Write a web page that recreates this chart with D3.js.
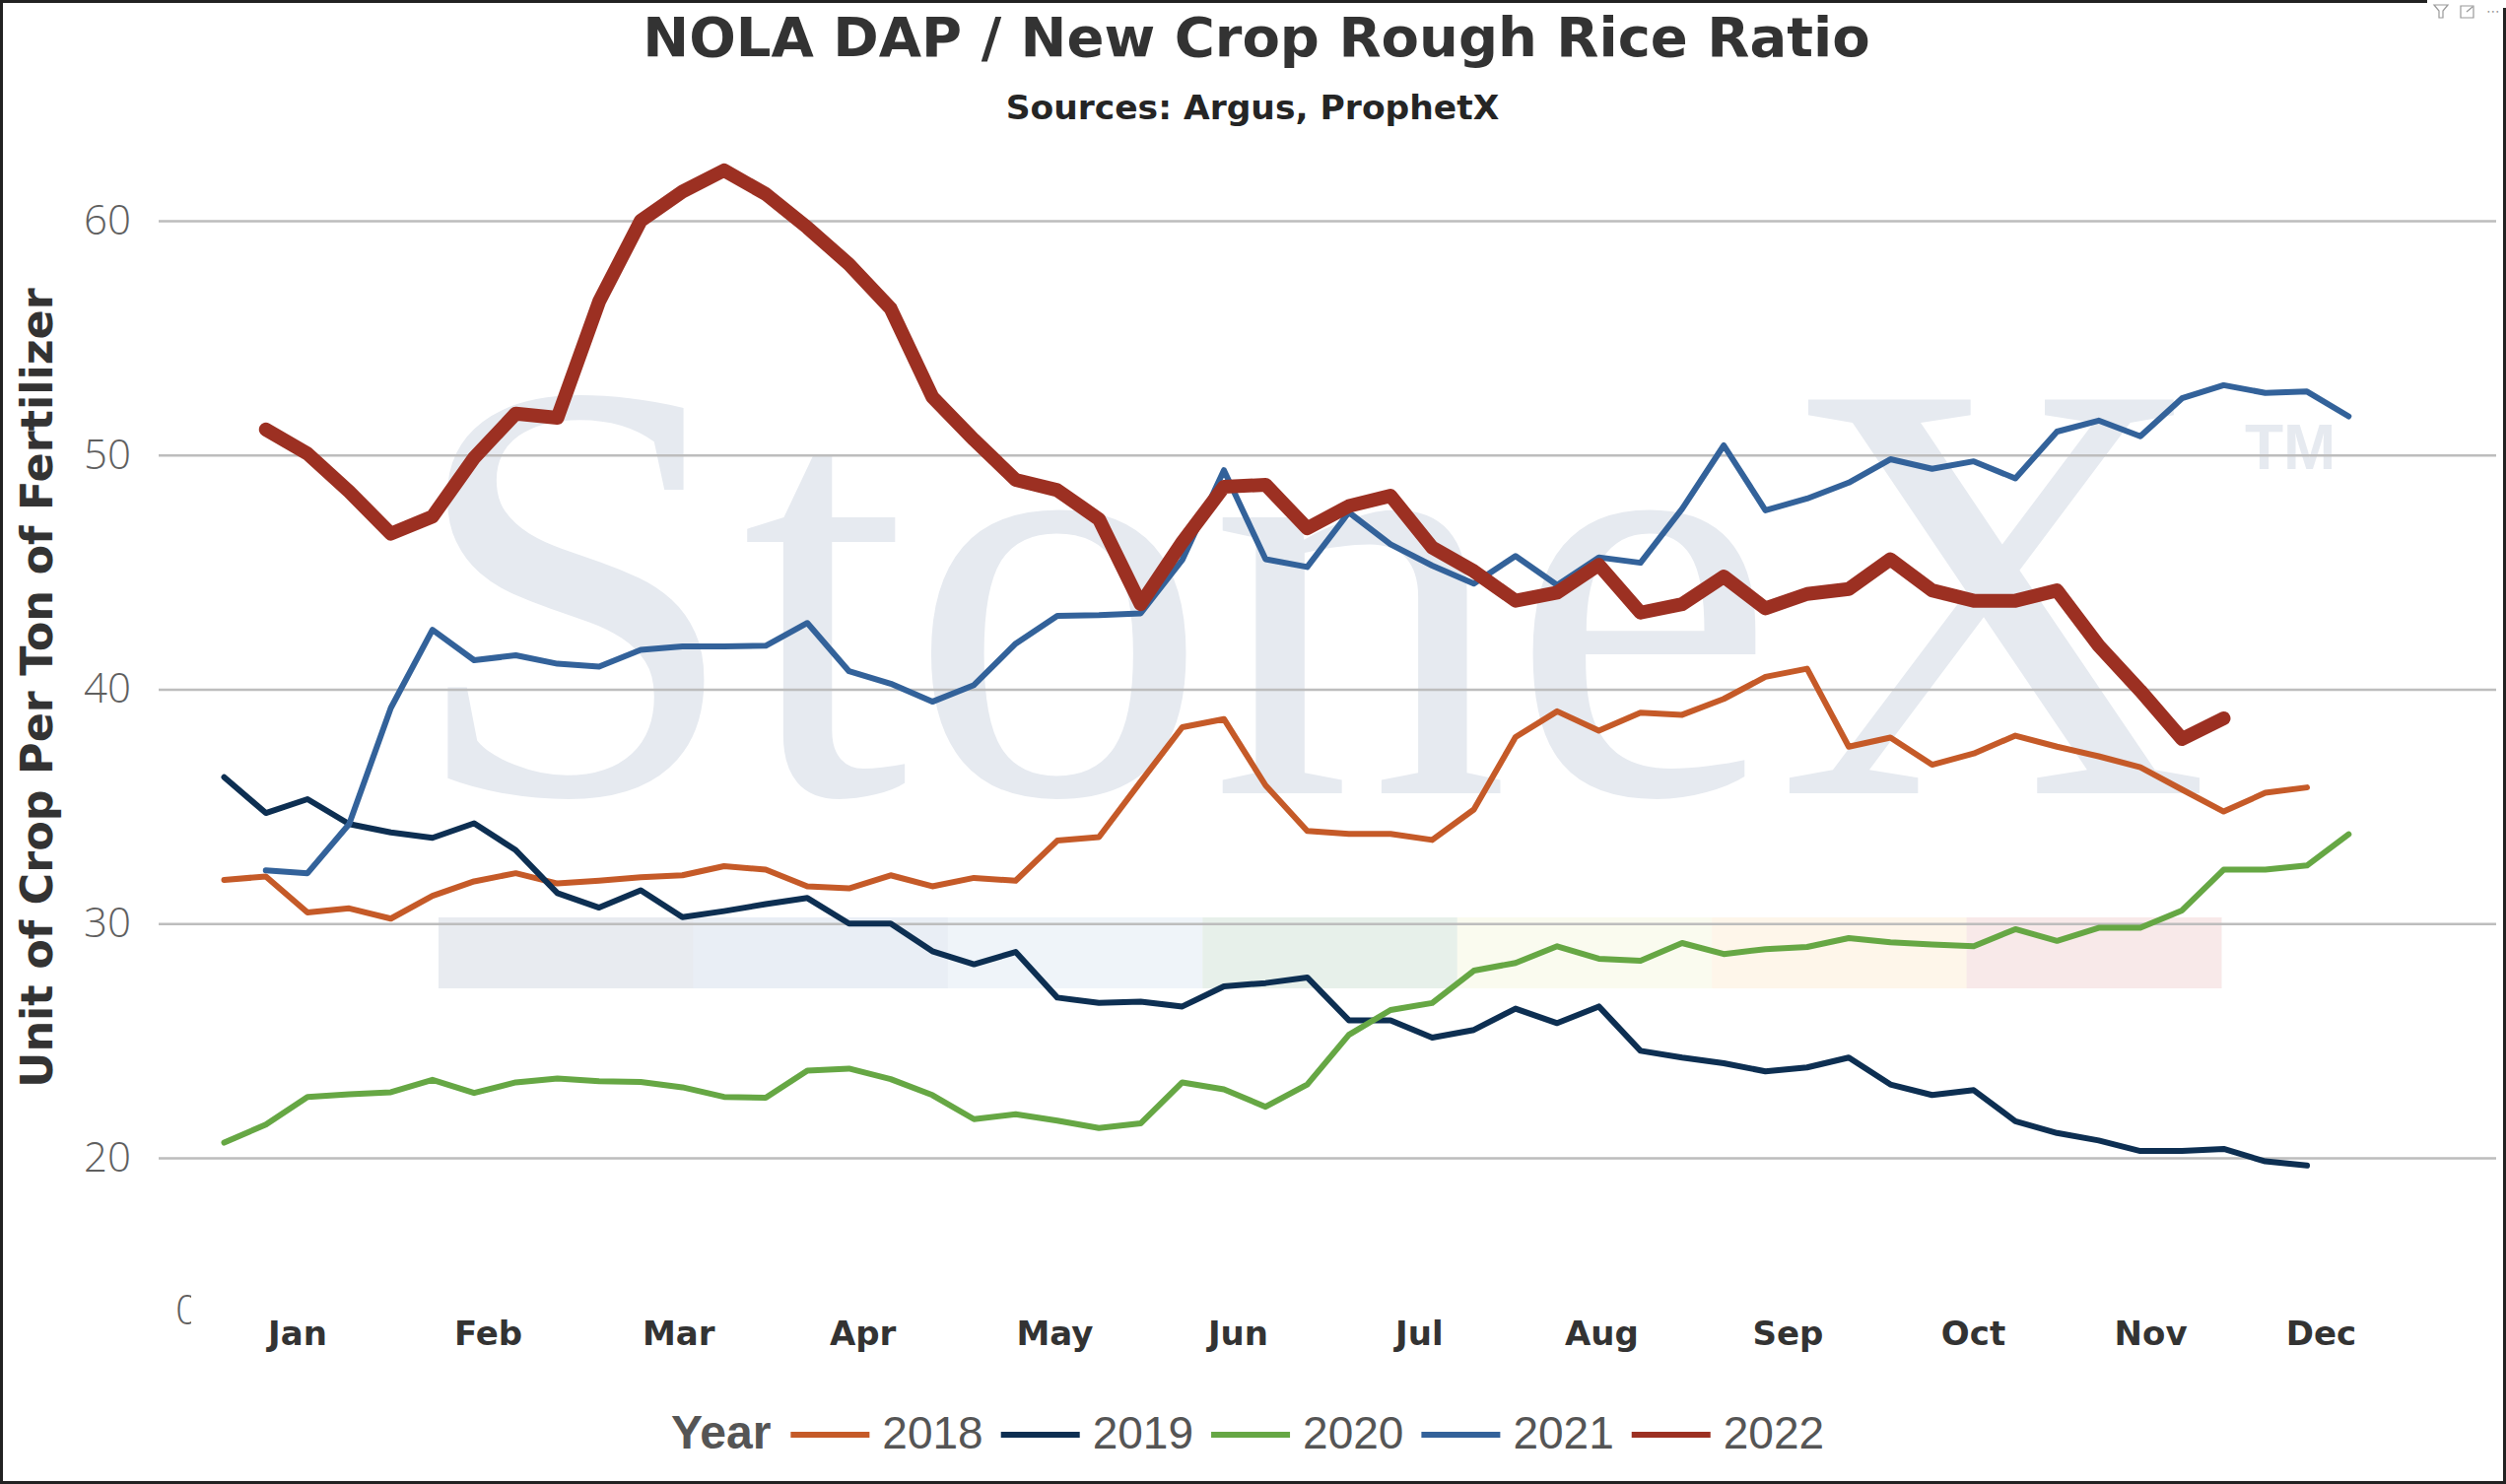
<!DOCTYPE html>
<html>
<head>
<meta charset="utf-8">
<script src="https://cdn.jsdelivr.net/npm/d3@7/dist/d3.min.js"></script>
<style>
  html, body { margin: 0; padding: 0; background: #fff; }
  svg { display: block; }
</style>
</head>
<body>
<div id="chart"></div>
<script>
// NOLA DAP / new crop rough rice ratio, one value per week (index 0 = first week)
const years = ['2018', '2019', '2020', '2021', '2022'];

const ratio2018 = [31.86, 32.01, 30.47, 30.65, 30.21, 31.18, 31.80, 32.15, 31.71, 31.83,
  31.98, 32.06, 32.45, 32.30, 31.59, 31.50, 32.06, 31.59, 31.95, 31.83,
  33.54, 33.69, 36.05, 38.38, 38.73, 35.90, 33.95, 33.83, 33.83, 33.57,
  34.87, 37.96, 39.06, 38.23, 39.00, 38.91, 39.59, 40.53, 40.88, 37.55,
  37.94, 36.78, 37.26, 38.02, 37.55, 37.14, 36.67, 35.72, 34.78, 35.58, 35.81];

const ratio2019 = [36.25, 34.72, 35.31, 34.25, 33.89, 33.66, 34.28, 33.13, 31.30, 30.68,
  31.42, 30.27, 30.53, 30.83, 31.09, 30.00, 30.00, 28.82, 28.26, 28.79,
  26.84, 26.61, 26.67, 26.46, 27.32, 27.46, 27.70, 25.87, 25.87, 25.13,
  25.46, 26.37, 25.75, 26.46, 24.57, 24.28, 24.04, 23.69, 23.86, 24.28,
  23.13, 22.68, 22.89, 21.56, 21.06, 20.74, 20.29, 20.29, 20.38, 19.85, 19.67];

const ratio2020 = [20.65, 21.42, 22.60, 22.71, 22.80, 23.33, 22.77, 23.22, 23.39, 23.27,
  23.24, 23.01, 22.60, 22.57, 23.72, 23.81, 23.36, 22.68, 21.65, 21.86,
  21.59, 21.27, 21.47, 23.22, 22.92, 22.18, 23.13, 25.25, 26.31, 26.61,
  27.99, 28.32, 29.03, 28.50, 28.41, 29.17, 28.70, 28.91, 29.00, 29.38,
  29.20, 29.11, 29.03, 29.76, 29.26, 29.82, 29.82, 30.56, 32.30, 32.30, 32.48, 33.81];

const ratio2021 = [null, 32.27, 32.15, 34.25, 39.20, 42.54, 41.24, 41.45, 41.09, 40.97,
  41.68, 41.83, 41.83, 41.86, 42.83, 40.77, 40.24, 39.47, 40.18, 41.95,
  43.13, 43.16, 43.24, 45.52, 49.35, 45.55, 45.22, 47.55, 46.19, 45.28,
  44.51, 45.69, 44.45, 45.63, 45.40, 47.70, 50.41, 47.64, 48.14, 48.82,
  49.82, 49.41, 49.73, 49.00, 51.00, 51.47, 50.80, 52.42, 52.98, 52.65, 52.71, 51.65];

const ratio2022 = [null, 51.09, 50.06, 48.44, 46.64, 47.37, 49.88, 51.77, 51.59, 56.55,
  60.00, 61.24, 62.15, 61.14, 59.71, 58.14, 56.25, 52.48, 50.65, 48.94,
  48.50, 47.26, 43.63, 46.28, 48.64, 48.73, 46.87, 47.82, 48.26, 46.05,
  45.04, 43.78, 44.13, 45.31, 43.27, 43.63, 44.81, 43.45, 44.07, 44.28,
  45.55, 44.22, 43.78, 43.78, 44.22, 41.86, 39.94, 37.88, 38.76];

// month labels and where they sit, in week units
const monthLabels = ['Jan', 'Feb', 'Mar', 'Apr', 'May', 'Jun', 'Jul', 'Aug', 'Sep', 'Oct', 'Nov', 'Dec'];
const monthPos = [1.75, 6.33, 10.90, 15.32, 19.93, 24.33, 28.68, 33.06, 37.53, 41.98, 46.24, 50.33];

const yTicks = [20, 30, 40, 50, 60];

const series = [ratio2018, ratio2019, ratio2020, ratio2021, ratio2022];

const W = 2543, H = 1506;

var svg = d3.select('#chart')
  .append('svg')
  .attr('width', W)
  .attr('height', H);

var x = d3.scaleLinear()
  .domain([0, 51])
  .range([227.5, 2383.3]);

var y = d3.scaleLinear()
  .domain([20, 60])
  .range([1175, 224]);

var color = d3.scaleOrdinal()
  .domain(years)
  .range(['#C55A28', '#0D2F52', '#66A744', '#33629A', '#9C3022']);

// StoneX watermark behind everything
var wm = svg.append('g').attr('class', 'watermark');
wm.append('text')
  .attr('x', 413)
  .attr('y', 805)
  .attr('font-family', '"Liberation Serif", "DejaVu Serif", serif')
  .attr('font-size', 610)
  .attr('fill', '#E6EAF0')
  .text('StoneX');
wm.append('text')
  .attr('x', 2278)
  .attr('y', 476)
  .attr('font-family', '"Liberation Sans", Arial, sans-serif')
  .attr('font-weight', 'bold')
  .attr('font-size', 64)
  .attr('fill', '#E6EAF0')
  .text('TM');

// coloured strip under the logo
const stripColors = ['#E8EBF0', '#E9EEF5', '#EFF4F9', '#E7F0EA', '#FAFBEF', '#FEF6EA', '#F8E9E9'];
var stripW = (2254 - 445) / stripColors.length;
wm.selectAll('rect.strip')
  .data(stripColors)
  .enter().append('rect')
  .attr('class', 'strip')
  .attr('x', (d, i) => 445 + i * stripW)
  .attr('y', 931)
  .attr('width', stripW + 0.5)
  .attr('height', 72)
  .attr('fill', (d) => d);

// gridlines
var grid = svg.append('g')
  .attr('transform', 'translate(161,0)')
  .call(d3.axisLeft(y)
    .tickValues(yTicks)
    .tickSize(-(2533 - 161))
    .tickFormat(''));
grid.select('.domain').remove();
grid.selectAll('line')
  .attr('stroke', '#BDBDBD')
  .attr('stroke-width', 2.5);

// y tick labels
var yAxis = svg.append('g')
  .attr('transform', 'translate(161,0)')
  .call(d3.axisLeft(y)
    .tickValues(yTicks)
    .tickSize(0)
    .tickPadding(28));
yAxis.select('.domain').remove();
yAxis.selectAll('text')
  .attr('font-family', '"Open Sans", "Liberation Sans", sans-serif')
  .attr('font-weight', 300)
  .attr('font-size', 42)
  .attr('fill', '#5f5f5f');

// the cut-off label in the lower left corner
svg.append('clipPath')
  .attr('id', 'cut')
  .append('rect')
  .attr('x', 170).attr('y', 1290).attr('width', 24).attr('height', 70);
svg.append('text')
  .attr('clip-path', 'url(#cut)')
  .attr('x', 178)
  .attr('y', y(13) + 3)
  .attr('font-family', '"Open Sans", "Liberation Sans", sans-serif')
  .attr('font-weight', 300)
  .attr('font-size', 42)
  .attr('fill', '#5f5f5f')
  .text('0');

// month labels
var xAxis = svg.append('g')
  .attr('transform', 'translate(0,1365)')
  .call(d3.axisBottom(x)
    .tickValues(monthPos)
    .tickSize(0)
    .tickFormat((d, i) => monthLabels[i]));
xAxis.select('.domain').remove();
xAxis.selectAll('text')
  .attr('y', 0)
  .attr('dy', 0)
  .attr('font-family', '"DejaVu Sans", sans-serif')
  .attr('font-weight', 'bold')
  .attr('font-size', 34)
  .attr('fill', '#333');

// lines
var line = d3.line()
  .defined((d) => d != null)
  .x((d, i) => x(i))
  .y((d) => y(d));

svg.append('g')
  .selectAll('path')
  .data(series)
  .enter().append('path')
  .attr('d', (d) => line(d))
  .attr('fill', 'none')
  .attr('stroke', (d, i) => color(years[i]))
  .attr('stroke-width', (d, i) => years[i] == '2022' ? 14 : 6)
  .attr('stroke-linejoin', 'round')
  .attr('stroke-linecap', 'round');

// titles
svg.append('text')
  .attr('x', 1275)
  .attr('y', 57)
  .attr('text-anchor', 'middle')
  .attr('font-family', '"DejaVu Sans", sans-serif')
  .attr('font-weight', 'bold')
  .attr('font-size', 56)
  .attr('fill', '#333')
  .text('NOLA DAP / New Crop Rough Rice Ratio');

svg.append('text')
  .attr('x', 1271)
  .attr('y', 121)
  .attr('text-anchor', 'middle')
  .attr('font-family', '"DejaVu Sans", sans-serif')
  .attr('font-weight', 'bold')
  .attr('font-size', 34.5)
  .attr('fill', '#252525')
  .text('Sources: Argus, ProphetX');

svg.append('text')
  .attr('transform', 'translate(53,698) rotate(-90)')
  .attr('text-anchor', 'middle')
  .attr('font-family', '"DejaVu Sans", sans-serif')
  .attr('font-weight', 'bold')
  .attr('font-size', 44.5)
  .attr('fill', '#333')
  .text('Unit of Crop Per Ton of Fertilizer');

// legend, laid out left to right then centred
var legend = svg.append('g');
var cursor = 0;
var yearLbl = legend.append('text')
  .attr('x', cursor)
  .attr('y', 1470)
  .attr('font-family', '"Liberation Sans", Arial, sans-serif')
  .attr('font-weight', 'bold')
  .attr('font-size', 48)
  .attr('fill', '#555')
  .text('Year');
cursor += yearLbl.node().getComputedTextLength() + 20;

years.forEach((yr) => {
  legend.append('line')
    .attr('x1', cursor)
    .attr('x2', cursor + 80)
    .attr('y1', 1456)
    .attr('y2', 1456)
    .attr('stroke', color(yr))
    .attr('stroke-width', 6);
  var t = legend.append('text')
    .attr('x', cursor + 93)
    .attr('y', 1470)
    .attr('font-family', '"Liberation Sans", Arial, sans-serif')
    .attr('font-size', 46)
    .attr('fill', '#555')
    .text(yr);
  cursor += 93 + t.node().getComputedTextLength() + 18;
});
cursor -= 18;
legend.attr('transform', 'translate(' + (1266 - cursor / 2) + ',0)');

// frame and the little header icons
svg.append('rect')
  .attr('x', 1.5).attr('y', 1.5)
  .attr('width', W - 3).attr('height', H - 3)
  .attr('fill', 'none')
  .attr('stroke', '#222')
  .attr('stroke-width', 3);
svg.append('rect')
  .attr('x', 2463).attr('y', 0).attr('width', 80).attr('height', 8)
  .attr('fill', '#fff');
var icons = svg.append('g')
  .attr('fill', 'none')
  .attr('stroke', '#999')
  .attr('stroke-width', 1.2);
icons.append('path')
  .attr('d', 'M2470,5 L2484,5 L2479,11 L2479,18 L2475,18 L2475,11 Z');
icons.append('path')
  .attr('d', 'M2497,6 L2510,6 L2510,18 L2497,18 Z M2503,12 L2509,7');
svg.append('text')
  .attr('x', 2530)
  .attr('y', 16)
  .attr('text-anchor', 'middle')
  .attr('font-family', '"DejaVu Sans", sans-serif')
  .attr('font-size', 14)
  .attr('fill', '#999')
  .text('\u22EF');
</script>
</body>
</html>
